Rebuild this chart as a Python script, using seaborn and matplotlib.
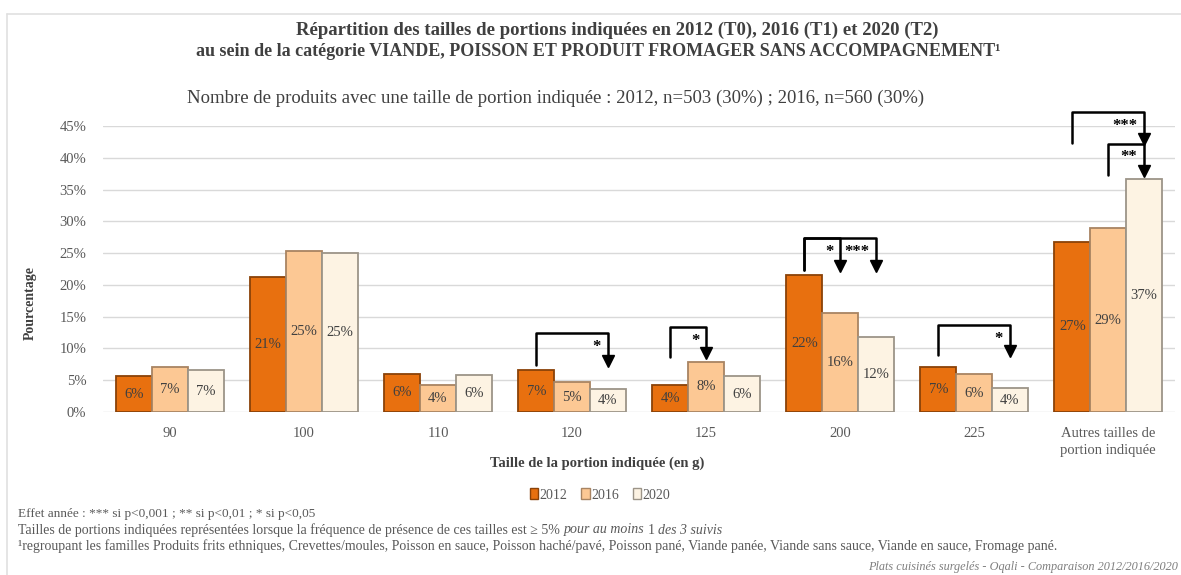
import pandas as pd
import matplotlib.pyplot as plt
import seaborn as sns
from matplotlib.lines import Line2D
from matplotlib.ticker import PercentFormatter

# données (en %)
categories = ["90", "100", "110", "120", "125", "200", "225", "Autres tailles de\nportion indiquée"]
annees = ["2012", "2016", "2020"]
v2012 = [5.6, 21.2, 6.0, 6.6, 4.2, 21.6, 7.1, 26.8]
v2016 = [7.1, 25.4, 4.2, 4.7, 7.9, 15.6, 5.9, 28.9]
v2020 = [6.6, 25.0, 5.8, 3.6, 5.6, 11.8, 3.7, 36.7]

# tests significatifs : (catégorie, année de départ, année d'arrivée, niveau bas, niveau haut, étoiles)
tests = [
    ("120", "2012", "2020", 7.4, 12.4, "*"),
    ("125", "2012", "2016", 8.7, 13.4, "*"),
    ("200", "2012", "2016", 22.3, 27.4, "*"),
    ("200", "2012", "2020", 22.3, 27.4, "***"),
    ("225", "2012", "2020", 9.0, 13.7, "*"),
    ("Autres tailles de\nportion indiquée", "2012", "2020", 42.3, 47.2, "***"),
    ("Autres tailles de\nportion indiquée", "2016", "2020", 37.3, 42.2, "**"),
]

df = pd.DataFrame({
    "taille": categories * 3,
    "annee": [a for a in annees for _ in categories],
    "valeur": v2012 + v2016 + v2020,
})

sns.set_style("whitegrid")
plt.rcParams["font.family"] = ["Liberation Serif", "DejaVu Serif"]

couleurs = ["#E8700F", "#FCC894", "#FDF3E3"]
bords = ["#8A4208", "#A88462", "#9C9488"]
gris = "#595959"

fig = plt.figure(figsize=(11.81, 5.75), dpi=100)
ax = fig.add_axes([103 / 1181, 0.2835, 1072 / 1181, 0.4974])

sns.barplot(data=df, x="taille", y="valeur", hue="annee", palette=couleurs,
            width=0.8, ax=ax, legend=True, saturation=1)

for c, ec in zip(ax.containers, bords):
    for p in c:
        p.set_edgecolor(ec)
        p.set_linewidth(1.3)
    ax.bar_label(c, labels=[f"{int(p.get_height() + 0.5)}%" for p in c],
                 label_type="center", fontsize=10.5, color="#404040")

ax.set_xlim(-0.5, len(categories) - 0.5)
ax.set_ylim(0, 45)
ax.set_yticks(range(0, 46, 5))
ax.yaxis.set_major_formatter(PercentFormatter(decimals=0))
ax.grid(axis="y", color="#d9d9d9", linewidth=1)
ax.grid(axis="x", visible=False)
for s in ax.spines.values():
    s.set_visible(False)
ax.tick_params(axis="both", length=0, labelsize=10.5, labelcolor=gris)
ax.tick_params(axis="x", pad=11)
ax.tick_params(axis="y", pad=12)
for lab in ax.get_xticklabels():
    lab.set_linespacing(1.35)
ax.set_xlabel("")
ax.set_ylabel("")

# crochets de significativité
hue_idx = {a: i for i, a in enumerate(annees)}
for cat, a0, a1, bas, haut, etoiles in tests:
    g = categories.index(cat)
    p0 = ax.containers[hue_idx[a0]][g]
    p1 = ax.containers[hue_idx[a1]][g]
    x0 = p0.get_x() + p0.get_width() / 2
    x1 = p1.get_x() + p1.get_width() / 2
    ax.plot([x0, x0, x1, x1], [bas, haut, haut, bas + 0.9], color="black",
            lw=1.8, clip_on=False, solid_joinstyle="round")
    ax.plot([x1], [bas + 0.6], marker="v", color="black", markersize=8, clip_on=False)
    ax.text(x1 - 0.05, haut - 0.9, etoiles, ha="right", va="top", fontsize=12,
            fontweight="bold", color="black")

ax.legend_.remove()
handles = [plt.Rectangle((0, 0), 1, 1, facecolor=c, edgecolor=e) for c, e in zip(couleurs, bords)]
fig.legend(handles, annees, loc="center", bbox_to_anchor=(0.508, 1 - 495 / 575), ncol=3,
           frameon=False, fontsize=10, handlelength=0.6, handleheight=0.8,
           handletextpad=0.1, columnspacing=1.0, labelcolor=gris)

# titres
fig.text(617 / 1181, 1 - 30 / 575, "Répartition des tailles de portions indiquées en 2012 (T0), 2016 (T1) et 2020 (T2)",
         ha="center", va="center", fontsize=13.5, fontweight="bold", color="#404040")
fig.text(598 / 1181, 1 - 52 / 575, "au sein de la catégorie VIANDE, POISSON ET PRODUIT FROMAGER SANS ACCOMPAGNEMENT¹",
         ha="center", va="center", fontsize=13, fontweight="bold", color="#404040")
fig.text(556 / 1181, 1 - 98 / 575, "Nombre de produits avec une taille de portion indiquée : 2012, n=503 (30%) ; 2016, n=560 (30%)",
         ha="center", va="center", fontsize=13.5, color="#404040")
fig.text(30 / 1181, 1 - 303 / 575, "Pourcentage", rotation=90, ha="center", va="center",
         fontsize=10, fontweight="bold", color="#404040")
fig.text(597 / 1181, 1 - 463 / 575, "Taille de la portion indiquée (en g)", ha="center", va="center",
         fontsize=10.5, fontweight="bold", color="#404040")

# notes
fig.text(18 / 1181, 1 - 514 / 575, "Effet année : *** si p<0,001 ; ** si p<0,01 ; * si p<0,05",
         ha="left", va="center", fontsize=9.5, color=gris)

renderer = fig.canvas.get_renderer()
x = 18 / 1181
morceaux = [("Tailles de portions indiquées représentées lorsque la fréquence de présence de ces tailles est ≥ 5% ", "normal"),
            ("pour au moins ", "italic"), ("1 ", "normal"), ("des 3 suivis", "italic")]
for txt, style in morceaux:
    t = fig.text(x, 1 - 530 / 575, txt, ha="left", va="center", fontsize=10, color=gris, fontstyle=style)
    x += t.get_window_extent(renderer).width / fig.bbox.width

fig.text(18 / 1181, 1 - 546 / 575,
         "¹regroupant les familles Produits frits ethniques, Crevettes/moules, Poisson en sauce, Poisson haché/pavé, "
         "Poisson pané, Viande panée, Viande sans sauce, Viande en sauce, Fromage pané.",
         ha="left", va="center", fontsize=10, color=gris)
fig.text(1178 / 1181, 1 - 567 / 575, "Plats cuisinés surgelés - Oqali - Comparaison 2012/2016/2020",
         ha="right", va="center", fontsize=8.8, color="#7f7f7f", fontstyle="italic")

# cadre
fig.add_artist(Line2D([7 / 1181, 1], [1 - 14 / 575, 1 - 14 / 575], color="#e0e0e0", lw=1.2))
fig.add_artist(Line2D([7 / 1181, 7 / 1181], [0, 1 - 14 / 575], color="#e0e0e0", lw=1.2))

fig.savefig("out.png", dpi=100)
